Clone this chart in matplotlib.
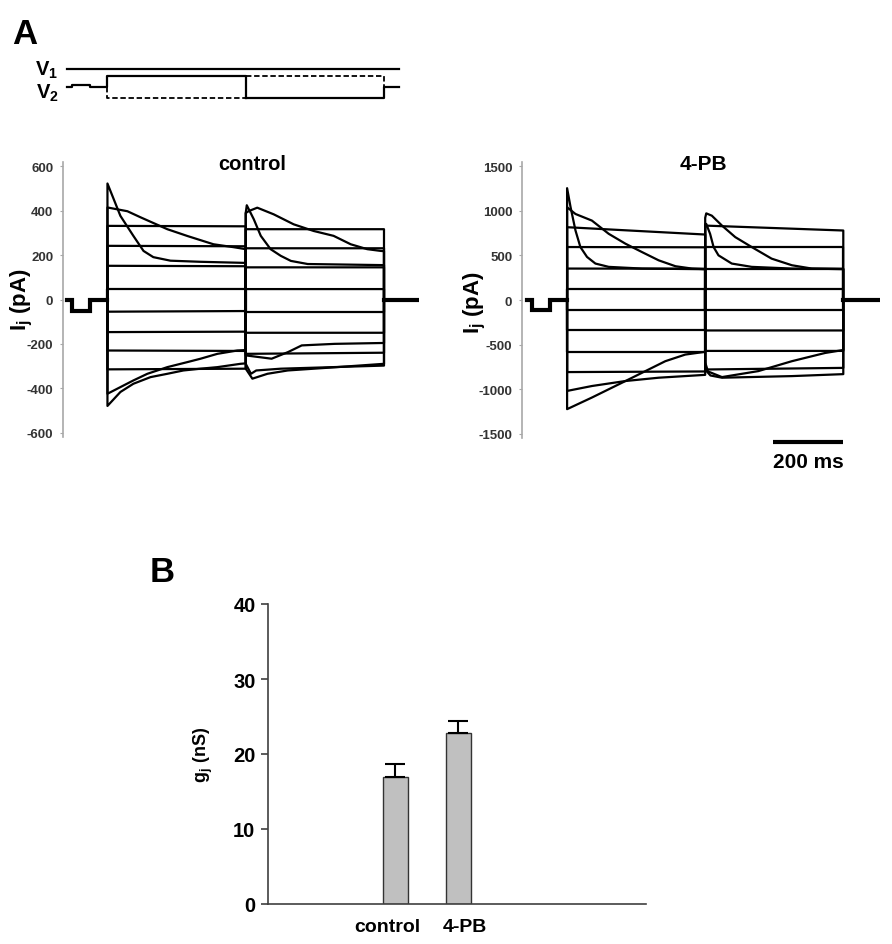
import numpy as np
import matplotlib
matplotlib.use("Agg")
import matplotlib.pyplot as plt
import matplotlib.transforms as mtransforms

plt.rcParams['font.family'] = ['Liberation Sans', 'DejaVu Sans']
plt.rcParams['font.weight'] = 'bold'
plt.rcParams['axes.unicode_minus'] = False
plt.rcParams['mathtext.fontset'] = 'custom'
plt.rcParams['mathtext.rm'] = 'Liberation Sans:bold'
plt.rcParams['mathtext.bf'] = 'Liberation Sans:bold'
plt.rcParams['mathtext.it'] = 'Liberation Sans:bold'

# protokol zamanlari (ms)
t_pulse = [15, 65]
t_on, t_sw, t_off, t_end = 115, 510, 905, 1005

# voltaj semasi (keyfi birim)
v1_level = 1.0
v2_base = 0.0
v2_pulse = 0.1
v2_step = 0.6
v_end = 948

# control: step 1 ve step 2 akimlari (goreli zaman ms, akim pA)
ctrl_hold = -50
ctrl_step1 = [
    ([0, 37, 74, 103, 131, 180, 266, 395], [523, 377, 287, 219, 191, 175, 170, 165]),
    ([0, 57, 94, 171, 229, 303, 360, 395], [415, 398, 371, 317, 286, 249, 236, 227]),
    ([0, 395], [332, 330]),
    ([0, 395], [242, 240]),
    ([0, 395], [152, 150]),
    ([0, 395], [47, 47]),
    ([0, 395], [-55, -52]),
    ([0, 395], [-147, -145]),
    ([0, 395], [-230, -232]),
    ([0, 395], [-315, -312]),
    ([0, 37, 74, 114, 171, 229, 266, 314, 371, 395],
     [-425, -395, -365, -335, -305, -282, -267, -245, -230, -228]),
    ([0, 37, 74, 123, 171, 217, 266, 314, 380, 395],
     [-480, -417, -380, -350, -335, -320, -312, -305, -290, -288]),
]
ctrl_step2 = [
    ([0, 19, 62, 120, 260, 395], [-312, -357, -335, -320, -305, -290]),
    ([0, 15, 30, 100, 395], [-290, -335, -320, -312, -298]),
    ([0, 74, 121, 160, 254, 395], [-252, -267, -237, -207, -200, -196]),
    ([0, 395], [-245, -240]),
    ([0, 395], [-150, -150]),
    ([0, 395], [-55, -55]),
    ([0, 395], [47, 47]),
    ([0, 395], [145, 145]),
    ([0, 395], [231, 231]),
    ([0, 395], [317, 317]),
    ([0, 3, 23, 43, 71, 100, 129, 177, 395], [390, 425, 362, 287, 227, 197, 174, 160, 155]),
    ([0, 9, 33, 80, 137, 194, 251, 300, 347, 386, 395],
     [390, 399, 414, 384, 339, 309, 287, 249, 227, 219, 218]),
]

# 4-PB
pb_hold = -111
pb_step1 = [
    ([0, 10, 24, 38, 57, 81, 119, 214, 386, 395], [1252, 1038, 778, 593, 482, 408, 371, 352, 345, 345]),
    ([0, 24, 71, 119, 167, 214, 262, 310, 357, 395], [1038, 963, 889, 741, 630, 537, 444, 378, 352, 345]),
    ([0, 395], [815, 733]),
    ([0, 395], [593, 590]),
    ([0, 395], [352, 350]),
    ([0, 395], [119, 119]),
    ([0, 395], [-111, -111]),
    ([0, 395], [-341, -341]),
    ([0, 395], [-581, -581]),
    ([0, 395], [-807, -800]),
    ([0, 71, 167, 262, 395], [-1018, -963, -907, -870, -838]),
    ([0, 71, 167, 224, 281, 338, 395], [-1222, -1092, -907, -796, -685, -611, -580]),
]
pb_step2 = [
    ([0, 8, 48, 152, 248, 343, 395], [-700, -800, -863, -796, -685, -593, -560]),
    ([0, 15, 48, 248, 395], [-780, -845, -870, -852, -830]),
    ([0, 395], [-778, -760]),
    ([0, 395], [-570, -570]),
    ([0, 395], [-341, -341]),
    ([0, 395], [-111, -111]),
    ([0, 395], [119, 119]),
    ([0, 395], [352, 352]),
    ([0, 395], [593, 593]),
    ([0, 395], [833, 778]),
    ([0, 3, 14, 24, 38, 76, 133, 248, 395], [850, 852, 741, 593, 500, 408, 371, 352, 350]),
    ([0, 3, 19, 48, 86, 133, 190, 248, 305, 395], [920, 970, 944, 833, 704, 593, 463, 389, 352, 345]),
]

# B paneli
groups = ["control", "4-PB"]
gj_mean = [16.9, 22.8]
gj_sem = [1.8, 1.6]

W, H = 892, 945
fig = plt.figure(figsize=(W / 100, H / 100), dpi=100)


def box(x0, y0, x1, y1):
    # piksel -> figur koordinati
    return [x0 / W, 1 - y1 / H, (x1 - x0) / W, (y1 - y0) / H]


def draw_traces(ax, step1, step2, hold):
    for s1, s2 in zip(step1, step2):
        t = np.concatenate([[0, t_pulse[0], t_pulse[0], t_pulse[1], t_pulse[1], t_on],
                            t_on + np.array(s1[0]), t_sw + np.array(s2[0]), [t_off, t_end]])
        v = np.concatenate([[0, 0, hold, hold, 0, 0], s1[1], s2[1], [0, 0]])
        ax.plot(t, v, color="black", lw=1.6)
    # gurultulu taban cizgisi
    ax.plot([0, t_pulse[0], t_pulse[0], t_pulse[1], t_pulse[1], t_on],
            [0, 0, hold, hold, 0, 0], color="black", lw=3, solid_joinstyle="miter")
    ax.plot([t_off, t_end], [0, 0], color="black", lw=3)


def style_trace_axes(ax, ticks):
    for s in ["top", "right", "bottom"]:
        ax.spines[s].set_visible(False)
    ax.spines["left"].set_color("#a8a8a8")
    ax.spines["left"].set_linewidth(1.2)
    ax.set_xticks([])
    ax.set_yticks(ticks)
    ax.tick_params(axis="y", length=2, color="#a8a8a8", pad=5, labelsize=9.5,
                   labelcolor="#333333")
    for lab in ax.get_yticklabels():
        lab.set_fontweight("bold")


# voltaj semasi
ax_v = fig.add_axes(box(63, 60, 419, 110))
ax_v.set_xlim(-12, 1005)
ax_v.set_ylim(-1.22, 1.56)
ax_v.axis("off")
ax_v.plot([0, v_end], [v1_level, v1_level], color="black", lw=1.6)
ax_v.plot([0, t_pulse[0], t_pulse[0], t_pulse[1], t_pulse[1], t_on, t_on, t_sw, t_sw],
          [v2_base, v2_base, v2_pulse, v2_pulse, v2_base, v2_base, v2_step, v2_step, -v2_step],
          color="black", lw=1.6)
ax_v.plot([t_sw, t_off, t_off, v_end], [-v2_step, -v2_step, v2_base, v2_base], color="black", lw=1.6)
ax_v.plot([t_on, t_on, t_sw], [v2_base, -v2_step, -v2_step], color="black", lw=1.3, ls=(0, (3, 1.5)))
ax_v.plot([t_sw, t_off, t_off], [v2_step, v2_step, v2_base], color="black", lw=1.3, ls=(0, (3, 1.5)))
fig.text(47 / W, 1 - 70 / H, r"$\mathbf{V_1}$", ha="center", va="center", fontsize=14.5)
fig.text(47 / W, 1 - 93 / H, r"$\mathbf{V_2}$", ha="center", va="center", fontsize=14.5)

# control
ax1 = fig.add_axes(box(63, 163, 419, 438))
draw_traces(ax1, ctrl_step1, ctrl_step2, ctrl_hold)
ax1.set_xlim(-12, 1005)
ax1.set_ylim(-620, 620)
style_trace_axes(ax1, [-600, -400, -200, 0, 200, 400, 600])
fig.text(252 / W, 1 - 165 / H, "control", ha="center", va="center", fontsize=14.5, fontweight="bold")
fig.text(22 / W, 1 - 300 / H, r"$\mathbf{I_j}$ (pA)", ha="center", va="center", rotation=90,
         fontsize=16, fontweight="bold")

# 4-PB
ax2 = fig.add_axes(box(522, 163, 880, 439))
draw_traces(ax2, pb_step1, pb_step2, pb_hold)
ax2.set_xlim(-14, 1010)
ax2.set_ylim(-1545, 1545)
style_trace_axes(ax2, [-1500, -1000, -500, 0, 500, 1000, 1500])
fig.text(703 / W, 1 - 165 / H, "4-PB", ha="center", va="center", fontsize=15, fontweight="bold")
fig.text(475 / W, 1 - 303 / H, r"$\mathbf{I_j}$ (pA)", ha="center", va="center", rotation=90,
         fontsize=16, fontweight="bold")
# 200 ms olcek cubugu
ax2.plot([703, 903], [-1586, -1586], color="black", lw=3, clip_on=False, solid_capstyle="butt")
fig.text(808 / W, 1 - 463 / H, "200 ms", ha="center", va="center", fontsize=15, fontweight="bold")

fig.text(12 / W, 1 - 34 / H, "A", ha="left", va="center", fontsize=25, fontweight="bold")
fig.text(150 / W, 1 - 573 / H, "B", ha="left", va="center", fontsize=25, fontweight="bold")

# B: gj bar grafigi
ax3 = fig.add_axes(box(268, 605, 646, 905))
xpos = np.arange(1, len(groups) + 1)
ax3.bar(xpos, gj_mean, width=0.4, color="#c0c0c0", edgecolor="#333333", lw=1)
ax3.errorbar(xpos, gj_mean, yerr=[[0] * len(gj_sem), gj_sem], fmt="none", ecolor="black",
             elinewidth=1.5, capsize=7, capthick=1.5)
ax3.set_xlim(-1.02, 4.98)
ax3.set_ylim(0, 40)
ax3.set_yticks([0, 10, 20, 30, 40])
ax3.set_xticks([])
# etiketler cubuklarin biraz disina kayik
trans = mtransforms.blended_transform_factory(ax3.transData, ax3.transAxes)
for x, name, dx in zip(xpos, groups, [-0.12, 0.1]):
    ax3.text(x + dx, -0.075, name, transform=trans, ha="center", va="center",
             fontsize=14, fontweight="bold")
for s in ["top", "right"]:
    ax3.spines[s].set_visible(False)
for s in ["left", "bottom"]:
    ax3.spines[s].set_color("#404040")
    ax3.spines[s].set_linewidth(1.2)
ax3.tick_params(axis="y", length=5, color="#404040", width=1.2, labelsize=14.5, pad=4)
for lab in ax3.get_yticklabels():
    lab.set_fontweight("bold")
fig.text(203 / W, 1 - 755 / H, r"$\mathbf{g_j}$ (nS)", ha="center", va="center", rotation=90,
         fontsize=13, fontweight="bold")

fig.savefig("out.png", dpi=100, facecolor="white")
